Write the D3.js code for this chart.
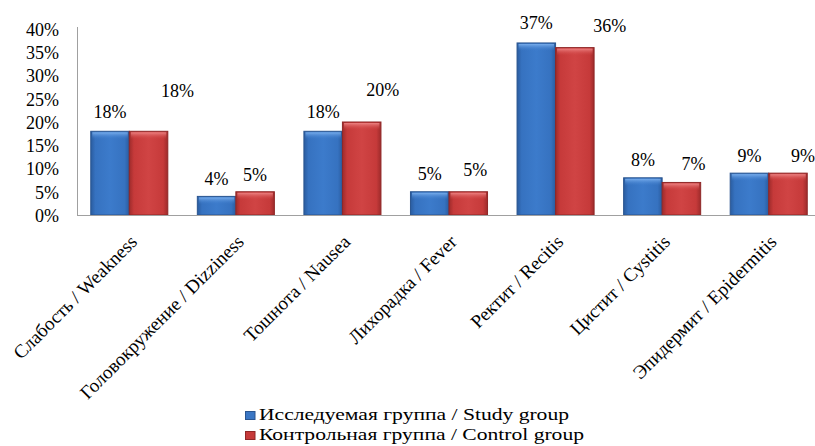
<html>
<head>
<meta charset="utf-8">
<script src="https://cdn.jsdelivr.net/npm/d3@7"></script>
<style>
  svg text, svg .tick text, #chart text { font-family: "Liberation Serif" !important; }
</style>
</head>
<body style="margin:0">
<svg id="chart" width="815" height="446"></svg>
<script>
// ---- data ----
const categories = [
  "Слабость / Weakness",
  "Головокружение / Dizziness",
  "Тошнота / Nausea",
  "Лихорадка / Fever",
  "Ректит / Recitis",
  "Цистит / Cystitis",
  "Эпидермит / Epidermitis"
];
const seriesNames = ["Исследуемая группа / Study group", "Контрольная группа / Control group"];
const studyValues = [0.18, 0.04, 0.18, 0.05, 0.37, 0.08, 0.09];
const controlValues = [0.18, 0.05, 0.20, 0.05, 0.36, 0.07, 0.09];
const yTicks = [0, 0.05, 0.10, 0.15, 0.20, 0.25, 0.30, 0.35, 0.40];
// label nudges (layout, px) for the data labels, as placed in the original
const controlLabelNudgeX = [29, 0, 21, 7, 35, 12, 15];
const controlLabelLift = [34, 11, 26, 16, 16, 12, 11];
const studyLabelLift = [13, 11, 13, 12, 14, 12, 11];

const FONT = "Liberation Serif";
function serif(sel) {
  return sel.attr("font-family", FONT).style("font-family", FONT, "important");
}

const svg = d3.select("#chart");
const defs = svg.append("defs");

function makeGrad(id, edge, mid, light) {
  const g = defs.append("linearGradient").attr("id", id)
    .attr("x1", "0").attr("x2", "1").attr("y1", "0").attr("y2", "0");
  g.append("stop").attr("offset", "0").attr("stop-color", edge);
  g.append("stop").attr("offset", "0.12").attr("stop-color", mid);
  g.append("stop").attr("offset", "0.5").attr("stop-color", light);
  g.append("stop").attr("offset", "0.88").attr("stop-color", mid);
  g.append("stop").attr("offset", "1").attr("stop-color", edge);
}
makeGrad("gBlue", "#2a5c9f", "#3672c0", "#3c7bcb");
makeGrad("gRed", "#9e2b2b", "#c63a3a", "#d04444");
function makeTop(id, top, bottom) {
  const g = defs.append("linearGradient").attr("id", id)
    .attr("x1", "0").attr("x2", "0").attr("y1", "0").attr("y2", "1");
  g.append("stop").attr("offset", "0").attr("stop-color", top).attr("stop-opacity", 0.9);
  g.append("stop").attr("offset", "1").attr("stop-color", bottom).attr("stop-opacity", 0);
}
makeTop("tBlue", "#7fb3f0", "#3c7bcb");
makeTop("tRed", "#f08a8a", "#d04444");

const x0 = d3.scaleBand().domain(categories).range([76, 822])
  .paddingInner(0.277).paddingOuter(0.1385);
const x1 = d3.scaleBand().domain([0, 1]).range([0, x0.bandwidth()]);
const y = d3.scaleLinear().domain([0, 0.4]).range([215, 29]);

// y axis
const yAxis = d3.axisLeft(y).tickValues(yTicks).tickSize(0).tickPadding(18)
  .tickFormat(d => Math.round(d * 100) + "%");
const gy = svg.append("g").attr("transform", "translate(77,0)").call(yAxis);
serif(gy).attr("font-size", 18);
gy.select(".domain").remove();
serif(gy.selectAll("text").attr("fill", "#000").attr("dy", "0.35em").attr("font-size", 18));
svg.append("line").attr("x1", 77.5).attr("x2", 77.5).attr("y1", 27).attr("y2", 215)
  .attr("stroke", "#a0a0a0").attr("stroke-width", 1);

const series = [
  { name: seriesNames[0], values: studyValues, fill: "url(#gBlue)", top: "url(#tBlue)", stroke: "#2a5590", key: "#3a76c4" },
  { name: seriesNames[1], values: controlValues, fill: "url(#gRed)", top: "url(#tRed)", stroke: "#8f2727", key: "#c63a3a" }
];

series.forEach((s, si) => {
  const g = svg.append("g");
  categories.forEach((c, i) => {
    const bx = x0(c) + x1(si);
    const by = y(s.values[i]);
    const bw = x1.bandwidth();
    const bh = y(0) - by;
    g.append("rect").attr("x", bx).attr("y", by).attr("width", bw).attr("height", bh)
      .attr("fill", s.fill).attr("stroke", s.stroke).attr("stroke-width", 1);
    g.append("rect").attr("x", bx + 1.5).attr("y", by + 1).attr("width", bw - 3).attr("height", Math.min(7, bh - 1))
      .attr("fill", s.top);
  });
});

// data labels
categories.forEach((c, i) => {
  const bw = x1.bandwidth();
  serif(svg.append("text"))
    .attr("x", x0(c) + x1(0) + bw / 2)
    .attr("y", y(studyValues[i]) - studyLabelLift[i])
    .attr("text-anchor", "middle").attr("font-size", 18)
    .text(Math.round(studyValues[i] * 100) + "%");
  serif(svg.append("text"))
    .attr("x", x0(c) + x1(1) + bw / 2 + controlLabelNudgeX[i])
    .attr("y", y(controlValues[i]) - controlLabelLift[i])
    .attr("text-anchor", "middle").attr("font-size", 18)
    .text(Math.round(controlValues[i] * 100) + "%");
});

// x axis baseline
svg.append("line").attr("x1", 77).attr("x2", 815).attr("y1", 215.5).attr("y2", 215.5)
  .attr("stroke", "#a0a0a0").attr("stroke-width", 1.2);

// category labels
categories.forEach(c => {
  const cx = x0(c) + x0.bandwidth() / 2;
  serif(svg.append("text"))
    .attr("transform", `translate(${cx + 9},243) rotate(-45)`)
    .attr("text-anchor", "end").attr("font-size", 19)
    .text(c);
});

// legend
const legend = svg.append("g");
series.forEach((s, i) => {
  const ly = 420 + i * 20;
  legend.append("rect").attr("x", 245.5).attr("y", ly - 8.5).attr("width", 9.5).attr("height", 8)
    .attr("fill", s.key).attr("stroke", s.stroke).attr("stroke-width", 1);
  serif(legend.append("text")).attr("transform", `translate(259,${ly}) scale(1.27,1)`)
    .attr("font-size", 17).text(s.name);
});
</script>
</body>
</html>
